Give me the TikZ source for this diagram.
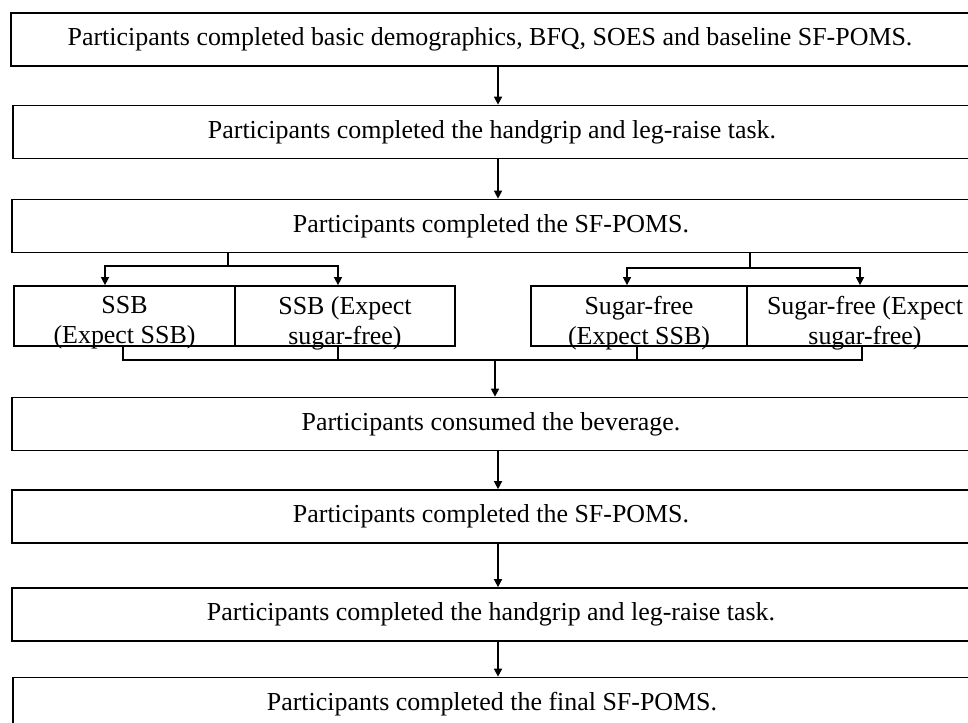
\documentclass[tikz,border=0pt]{standalone}
\usepackage{fontspec}
\setmainfont{Liberation Serif}
\usetikzlibrary{arrows.meta}

\newcommand{\low}[1]{\raisebox{-4pt}[\height][\depth]{#1}}

\tikzset{
  stage/.style={draw, line width=1pt, inner sep=0pt, align=center,
    minimum width=543pt, minimum height=30pt,
    font=\fontsize{14.7}{17}\selectfont},
  group/.style={stage, minimum height=34pt},
  link/.style={line width=0.8pt},
  arr/.style={link, -{Triangle[width=4.5pt,length=4.5pt]}}
}

\begin{document}
\begin{tikzpicture}[x=0.5669pt, y=-0.5669pt]

    \path[use as bounding box, fill=white] (0,0) rectangle (968,723);

    % Define nodes
    \node[stage] (demo)     at (490,39.5)  {Participants completed basic demographics, BFQ, SOES and baseline SF-POMS.};
    \node[stage] (task-pre) at (492,132)   {Participants completed the handgrip and leg-raise task.};
    \node[stage] (poms-pre) at (491,226)   {Participants completed the SF-POMS.};
    \node[group, minimum width=125.3pt] (ssb-ssb)   at (124.5,316) {\low{SSB}\\\low{(Expect SSB)}};
    \node[group, minimum width=124.7pt] (ssb-free)  at (345,316)   {\low{SSB (Expect}\\\low{sugar-free)}};
    \node[group, minimum width=122.4pt] (free-ssb)  at (639,316)   {\low{Sugar-free}\\\low{(Expect SSB)}};
    \node[group, minimum width=133.8pt] (free-free) at (865,316)   {\low{Sugar-free (Expect}\\\low{sugar-free)}};
    \node[stage] (drink)     at (491,424)  {Participants consumed the beverage.};
    \node[stage] (poms-post) at (491,516.5) {Participants completed the SF-POMS.};
    \node[stage] (task-post) at (491,614.5) {Participants completed the handgrip and leg-raise task.};
    \node[stage] (poms-end)  at (492,704)  {Participants completed the final SF-POMS.};

    % Helper coordinates
    \coordinate (spine)  at (498,0);
    \coordinate (lsplit) at (228,266);
    \coordinate (rsplit) at (750,268);
    \coordinate (merge)  at (495,360);
    \coordinate (in-a)  at (105,0);
    \coordinate (in-b)  at (338,0);
    \coordinate (in-c)  at (627,0);
    \coordinate (in-d)  at (860,0);
    \coordinate (out-a) at (123,0);
    \coordinate (out-b) at (338,0);
    \coordinate (out-c) at (637,0);
    \coordinate (out-d) at (862,0);

    % Connect the nodes
    \draw[arr] (demo.south -| spine) -- (task-pre.north -| spine);
    \draw[arr] (task-pre.south -| spine) -- (poms-pre.north -| spine);

    \draw[link] (poms-pre.south -| lsplit) -- (lsplit);
    \draw[arr] (lsplit) -| (ssb-ssb.north -| in-a);
    \draw[arr] (lsplit) -| (ssb-free.north -| in-b);
    \draw[link] (poms-pre.south -| rsplit) -- (rsplit);
    \draw[arr] (rsplit) -| (free-ssb.north -| in-c);
    \draw[arr] (rsplit) -| (free-free.north -| in-d);

    \draw[link] (ssb-ssb.south -| out-a) |- (out-d |- merge) -- (free-free.south -| out-d);
    \draw[link] (ssb-free.south -| out-b) -- (out-b |- merge);
    \draw[link] (free-ssb.south -| out-c) -- (out-c |- merge);
    \draw[arr] (merge) -- (drink.north -| merge);

    \draw[arr] (drink.south -| spine) -- (poms-post.north -| spine);
    \draw[arr] (poms-post.south -| spine) -- (task-post.north -| spine);
    \draw[arr] (task-post.south -| spine) -- (poms-end.north -| spine);

\end{tikzpicture}
\end{document}
